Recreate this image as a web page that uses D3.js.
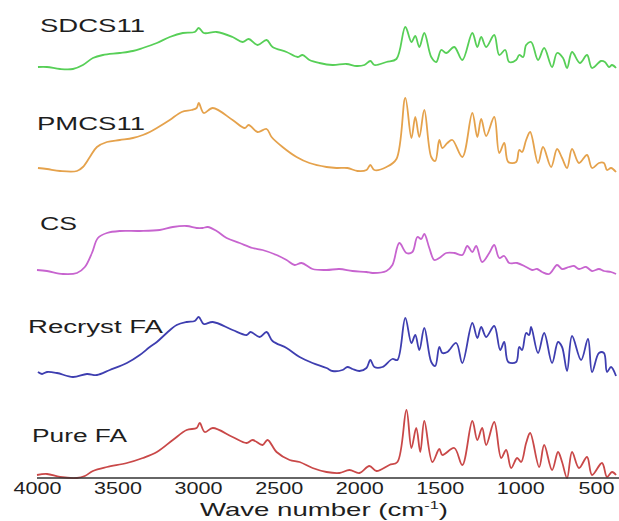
<!DOCTYPE html>
<meta charset="utf-8">
<script src="https://d3js.org/d3.v7.min.js"></script>
<style>
body { margin: 0; background: #fff; }
path.trace { fill: none; stroke-width: 1.8px; stroke-linejoin: round; }
text { font-family: "Liberation Sans", Arial, sans-serif; fill: #1e1e1e; }
</style>
<body>
<script>

// spectra: [wave number (cm-1), intensity (a.u.)]
var sdcs11 = [[3994,10],[3938,10],[3857,8],[3777,8],[3715,12],[3653,19],[3591,22],[3486,24],[3405,26],[3343,29],[3256,34],[3176,40],[3095,44],[3021,45],[2996,49],[2965,44],[2885,45],[2786,40],[2724,35],[2686,38],[2631,32],[2575,37],[2538,30],[2451,25],[2383,20],[2352,22],[2309,17],[2247,14],[2166,12],[2079,13],[2017,11],[1968,12],[1931,16],[1906,12],[1831,15],[1769,18],[1714,50],[1676,35],[1652,41],[1627,30],[1596,44],[1553,20],[1522,15],[1491,27],[1460,24],[1410,30],[1360,17],[1298,44],[1267,30],[1243,40],[1212,30],[1162,42],[1131,22],[1094,27],[1069,15],[1026,17],[1007,22],[982,20],[964,32],[933,35],[890,17],[852,29],[803,10],[772,24],[735,19],[710,9],[679,25],[630,14],[586,22],[555,9],[499,16],[475,15],[450,10],[431,12],[406,9]];

var pmcs11 = [[3994,9],[3938,8],[3857,6],[3752,6],[3715,10],[3672,20],[3628,30],[3566,35],[3486,37],[3405,39],[3343,42],[3300,45],[3256,49],[3176,57],[3102,65],[3040,67],[3009,69],[2996,74],[2965,64],[2909,69],[2786,57],[2711,49],[2686,52],[2631,45],[2575,48],[2544,40],[2476,30],[2389,20],[2309,14],[2203,10],[2141,9],[2073,9],[2011,6],[1955,7],[1931,12],[1906,7],[1831,10],[1769,18],[1714,79],[1676,39],[1652,60],[1627,40],[1596,67],[1553,20],[1528,16],[1503,37],[1484,29],[1453,34],[1422,37],[1360,20],[1298,64],[1267,40],[1243,58],[1212,41],[1162,60],[1131,24],[1100,34],[1075,15],[1026,15],[1007,27],[989,25],[964,37],[939,45],[890,14],[859,30],[809,10],[772,28],[741,19],[710,9],[679,28],[636,14],[586,22],[555,9],[512,14],[481,14],[462,7],[437,9],[406,5]];

var cs = [[4000,7],[3938,6],[3839,3],[3752,4],[3703,10],[3659,24],[3622,39],[3566,44],[3486,46],[3362,46],[3238,47],[3157,50],[3071,51],[3009,49],[2971,49],[2940,50],[2885,46],[2823,39],[2742,34],[2662,29],[2600,27],[2513,22],[2451,17],[2401,12],[2358,14],[2290,8],[2203,7],[2123,8],[2042,6],[1955,5],[1918,4],[1831,6],[1794,12],[1751,34],[1707,24],[1670,25],[1639,40],[1615,38],[1596,43],[1565,29],[1534,17],[1503,19],[1460,24],[1410,24],[1360,22],[1329,31],[1298,25],[1274,31],[1237,15],[1193,24],[1162,32],[1131,19],[1100,21],[1069,14],[1020,14],[964,10],[927,7],[896,8],[865,5],[821,3],[772,12],[741,8],[698,10],[667,11],[636,8],[592,10],[555,6],[512,8],[481,6],[437,5],[406,3]];

var recrystFA = [[3994,5],[3969,3],[3938,5],[3876,4],[3777,0],[3690,3],[3628,2],[3548,7],[3442,14],[3362,22],[3300,30],[3256,35],[3195,44],[3133,52],[3071,55],[3021,56],[2996,60],[2965,53],[2909,55],[2786,47],[2699,42],[2674,45],[2618,40],[2575,45],[2538,36],[2451,29],[2370,20],[2290,14],[2203,9],[2166,6],[2104,7],[2073,10],[2042,8],[1999,6],[1955,9],[1931,17],[1906,10],[1856,10],[1794,18],[1763,17],[1714,59],[1676,34],[1652,42],[1627,27],[1596,49],[1553,15],[1528,11],[1503,30],[1484,24],[1453,25],[1398,34],[1360,14],[1298,54],[1267,39],[1243,50],[1212,40],[1162,51],[1125,27],[1100,35],[1075,15],[1026,15],[1007,30],[989,27],[964,44],[945,42],[933,50],[890,24],[852,44],[803,14],[766,35],[741,30],[710,6],[679,41],[623,17],[580,38],[555,5],[512,24],[481,24],[462,5],[437,10],[406,1]];

var pureFA = [[4000,2],[3938,3],[3857,0],[3752,-1],[3703,1],[3653,6],[3566,10],[3442,14],[3343,19],[3256,25],[3157,37],[3071,47],[3009,49],[2990,54],[2959,45],[2909,49],[2786,40],[2699,34],[2662,37],[2600,32],[2569,37],[2513,25],[2432,17],[2370,15],[2290,9],[2203,5],[2123,4],[2061,7],[1999,4],[1937,11],[1893,6],[1813,12],[1763,15],[1707,67],[1676,29],[1646,49],[1621,25],[1596,56],[1546,15],[1503,28],[1484,22],[1410,29],[1360,12],[1298,56],[1267,37],[1237,49],[1212,32],[1162,55],[1119,19],[1088,27],[1057,9],[1020,19],[995,15],[964,34],[939,44],[883,10],[852,32],[803,7],[766,25],[741,15],[710,-1],[679,25],[636,9],[586,20],[555,2],[493,14],[462,0],[431,5],[406,2]];

var seriesNames = ["SDCS11", "PMCS11", "CS", "Recryst FA", "Pure FA"];
var seriesData = [sdcs11, pmcs11, cs, recrystFA, pureFA];
var seriesOffsets = [400, 300, 200, 100, 0];
var seriesColors = ["#57cf57", "#e5a24c", "#c764cf", "#3e3eb0", "#c94848"];
var xTicks = [4000, 3500, 3000, 2500, 2000, 1500, 1000, 500];

var width = 619,
    height = 521;

var svg = d3.select("body").append("svg")
    .attr("width", width)
    .attr("height", height);

var x = d3.scaleLinear()
    .domain([4000, 400])
    .range([37, 617]);

var y = d3.scaleLinear()
    .domain([0, 475])
    .range([477, 2]);

// traces
seriesData.forEach(function(data, i) {
  var line = d3.line()
      .x(function(d) { return x(d[0]); })
      .y(function(d) { return y(d[1] + seriesOffsets[i]); })
      .curve(d3.curveCatmullRom.alpha(0.5));

  svg.append("path")
      .datum(data)
      .attr("class", "trace")
      .attr("stroke", seriesColors[i])
      .attr("d", line);
});

// labels (x, baseline, width) by hand
var labelPos = [[40, 32, 105], [37, 130, 108], [40, 230, 37], [28, 333, 135], [32, 442, 95]];
svg.selectAll(".label")
    .data(seriesNames)
    .enter().append("text")
    .attr("class", "label")
    .attr("x", function(d, i) { return labelPos[i][0]; })
    .attr("y", function(d, i) { return labelPos[i][1]; })
    .attr("textLength", function(d, i) { return labelPos[i][2]; })
    .attr("lengthAdjust", "spacingAndGlyphs")
    .style("font-size", "18px")
    .text(function(d) { return d; });

// x axis
var xAxis = svg.append("g")
    .attr("transform", "translate(0,478)")
    .call(d3.axisBottom(x).tickValues(xTicks).tickFormat(d3.format("d"))
      .tickSize(0).tickPadding(4).tickSizeOuter(0));

xAxis.select(".domain")
    .attr("stroke", "#333")
    .attr("stroke-width", 1.5)
    .attr("d", "M37,0H619");

xAxis.selectAll(".tick text")
    .attr("textLength", 48)
    .attr("lengthAdjust", "spacingAndGlyphs")
    .style("font-size", "17px")
    .style("fill", "#1e1e1e")
    .style("font-family", "'Liberation Sans', Arial, sans-serif");

xAxis.selectAll(".tick")
    .filter(function(d) { return d == 500; })
    .select("text")
    .attr("textLength", 36)
    .attr("x", -5);

var title = svg.append("text")
    .attr("x", 324)
    .attr("y", 516)
    .attr("text-anchor", "middle")
    .style("font-size", "18.5px");
title.append("tspan").text("Wave number (cm");
title.append("tspan").attr("dy", -7).style("font-size", "11px").text("-1");
title.append("tspan").attr("dy", 7).text(")");
title.attr("textLength", 248).attr("lengthAdjust", "spacingAndGlyphs");

</script>
</body>
